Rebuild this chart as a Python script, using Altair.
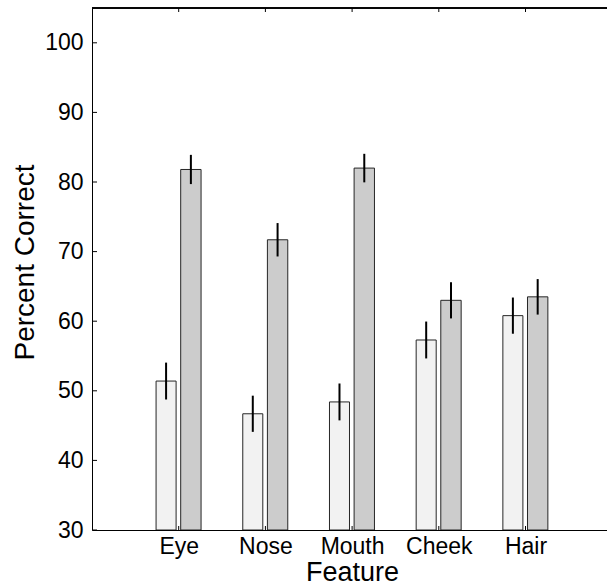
import altair as alt
import pandas as pd

features = ["Eye", "Nose", "Mouth", "Cheek", "Hair"]
light_values = [51.4, 46.7, 48.4, 57.3, 60.8]
light_errors = [2.65, 2.6, 2.65, 2.65, 2.6]
dark_values = [81.8, 71.7, 82.0, 63.0, 63.5]
dark_errors = [2.1, 2.4, 2.05, 2.6, 2.55]
y_ticks = [30, 40, 50, 60, 70, 80, 90, 100]

rows = []
for i, f in enumerate(features):
    rows.append(dict(feature=f, idx=i + 1, group="light", value=light_values[i], err=light_errors[i]))
    rows.append(dict(feature=f, idx=i + 1, group="dark", value=dark_values[i], err=dark_errors[i]))
df = pd.DataFrame(rows)
tick_df = pd.DataFrame({"tick": y_ticks})
cat_df = pd.DataFrame({"idx": list(range(1, len(features) + 1))})

W, H = 515, 522
FONT = "Liberation Sans"
x_scale = alt.Scale(domain=[0, 515 / 86.7], nice=False, zero=False)
y_scale = alt.Scale(domain=[30, 105], nice=False, zero=False)

label_expr = "[" + ",".join("'%s'" % f for f in features) + "][datum.value - 1]"

x_axis = alt.Axis(values=[1, 2, 3, 4, 5], labelExpr=label_expr, tickSize=0,
                  grid=False, domainColor="black", domainWidth=1,
                  labelFontSize=23, labelColor="black", labelFont=FONT,
                  labelPadding=5, labelAlign="center",
                  title="Feature", titleFontSize=27, titleFont=FONT,
                  titleFontWeight="normal", titleColor="black",
                  titleX=260, titleY=50, titleBaseline="alphabetic",
                  titleAlign="center", zindex=1)
y_axis = alt.Axis(values=y_ticks, tickSize=0, grid=False, domainColor="black",
                  domainWidth=1, labelFontSize=23, labelColor="black",
                  labelFont=FONT, labelPadding=9,
                  title="Percent Correct", titleFontSize=28, titleFont=FONT,
                  titleFontWeight="normal", titleColor="black",
                  titleAngle=270, titleX=-59, titleY=254,
                  titleBaseline="alphabetic", titleAlign="center", zindex=1)

base = alt.Chart(df).transform_calculate(
    x0="datum.idx + (datum.group == 'light' ? -0.261 : 0.023)",
    x1="datum.idx + (datum.group == 'light' ? -0.030 : 0.258)",
).transform_calculate(
    xc="(datum.x0 + datum.x1) / 2",
    lo="datum.value - datum.err",
    hi="datum.value + datum.err",
)

bars = base.mark_bar(stroke="#262626", strokeWidth=1).encode(
    x=alt.X("x0:Q", scale=x_scale, axis=x_axis),
    x2="x1:Q",
    y=alt.Y("value:Q", scale=y_scale, axis=y_axis),
    y2=alt.datum(30),
    color=alt.Color("group:N", scale=alt.Scale(domain=["light", "dark"],
                                               range=["#f2f2f2", "#cccccc"]), legend=None),
)

errs = base.mark_rule(color="black", strokeWidth=2).encode(
    x=alt.X("xc:Q", scale=x_scale, axis=x_axis),
    y=alt.Y("lo:Q", scale=y_scale, axis=y_axis),
    y2="hi:Q",
)

left_ticks = alt.Chart(tick_df).mark_rule(color="black", strokeWidth=1).encode(
    y=alt.Y("tick:Q", scale=y_scale, axis=y_axis),
    x=alt.value(0), x2=alt.value(5),
)

bottom_ticks = alt.Chart(cat_df).mark_rule(color="black", strokeWidth=1).encode(
    x=alt.X("idx:Q", scale=x_scale, axis=x_axis),
    y=alt.value(H), y2=alt.value(H - 4),
)

top_ticks = alt.Chart(cat_df).mark_rule(color="black", strokeWidth=1).encode(
    x=alt.X("idx:Q", scale=x_scale, axis=x_axis),
    y=alt.value(0), y2=alt.value(4),
)

top_border = alt.Chart(cat_df).mark_rule(color="black", strokeWidth=1).encode(
    x=alt.value(0), x2=alt.value(W), y=alt.value(0),
)

chart = alt.layer(bars, errs, left_ticks, bottom_ticks, top_ticks, top_border).properties(
    width=W, height=H,
    autosize=alt.AutoSizeParams(type="none"),
    padding={"left": 92, "top": 8, "right": 0, "bottom": 56},
    background="white",
).configure_view(stroke=None)

chart.save("out.html", embed_options={"renderer": "svg", "actions": False})
